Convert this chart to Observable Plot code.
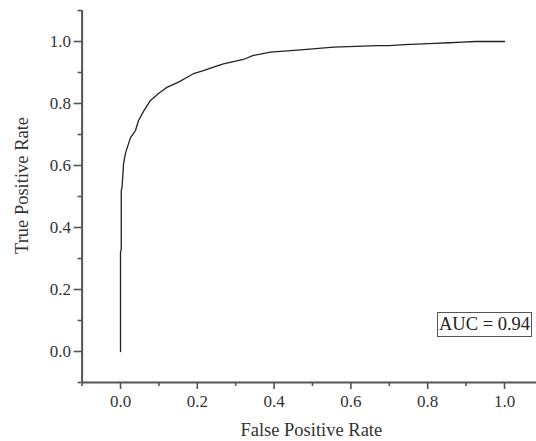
<!DOCTYPE html>
<html>
<head>
<meta charset="utf-8">
<script src="https://cdn.jsdelivr.net/npm/d3@7"></script>
<script src="https://cdn.jsdelivr.net/npm/@observablehq/plot@0.6"></script>
<style>
  html, body { margin: 0; padding: 0; background: #fff; }
  #wrap { position: relative; width: 536px; height: 441px; overflow: hidden; }
  #auc { position: absolute; left: 437px; top: 312px; width: 92px; height: 23px;
         border: 1px solid #555; font-family: "Liberation Serif", "Times New Roman", serif;
         font-size: 18.5px; line-height: 23px; color: #222; padding-left: 1px; white-space: nowrap; background: #fff; }
</style>
</head>
<body>
<div id="wrap"></div>
<script>
// ROC curve points
const fpr = [0, 0, 0.002, 0.002, 0.004, 0.008, 0.013, 0.026, 0.035, 0.039, 0.047, 0.061, 0.078, 0.099, 0.122, 0.151, 0.177, 0.19, 0.216, 0.242, 0.268, 0.32, 0.346, 0.39, 0.469, 0.555, 0.669, 0.70, 0.74, 0.818, 0.857, 0.89, 0.925, 1.0];
const tpr = [0, 0.32, 0.33, 0.52, 0.53, 0.606, 0.64, 0.69, 0.705, 0.713, 0.745, 0.777, 0.81, 0.832, 0.853, 0.869, 0.887, 0.896, 0.906, 0.917, 0.928, 0.942, 0.955, 0.966, 0.973, 0.982, 0.987, 0.987, 0.99, 0.994, 0.996, 0.998, 1.0, 1.0];
const majorTicks = [0, 0.2, 0.4, 0.6, 0.8, 1.0];
const minorTicks = [-0.1, 0.1, 0.3, 0.5, 0.7, 0.9, 1.1];
const xTitle = "False Positive Rate";
const yTitle = "True Positive Rate";
const aucLabel = "AUC = 0.94";

const roc = fpr.map((x, i) => ({x, y: tpr[i]}));
const font = '"Liberation Serif", "Times New Roman", serif';
const axisColor = "#555";
const textColor = "#333";

const chart = Plot.plot({
  width: 536,
  height: 441,
  marginLeft: 81.6,
  marginRight: 0,
  marginTop: 10,
  marginBottom: 59,
  style: {fontFamily: font, background: "#fff", overflow: "visible"},
  x: {domain: [-0.1, 1.1], range: [81.6, 542.4]},
  y: {domain: [-0.1, 1.1], range: [382, 10]},
  marks: [
    Plot.axisX(majorTicks, {tickSize: 7, tickPadding: 5, fontSize: 17, tickFormat: d3.format(".1f"), stroke: axisColor, strokeWidth: 1.6, fill: textColor, label: null}),
    Plot.axisX(minorTicks, {tickSize: 4, tickFormat: () => "", stroke: axisColor, strokeWidth: 1.6, label: null}),
    Plot.axisY(majorTicks, {tickSize: 8, tickPadding: 3, fontSize: 17, tickFormat: d3.format(".1f"), stroke: axisColor, strokeWidth: 1.6, fill: textColor, label: null}),
    Plot.axisY(minorTicks, {tickSize: 4, tickFormat: () => "", stroke: axisColor, strokeWidth: 1.6, label: null}),
    Plot.ruleY([-0.1], {stroke: axisColor, strokeWidth: 2}),
    Plot.ruleX([-0.1], {stroke: axisColor, strokeWidth: 2}),
    Plot.line(roc, {x: "x", y: "y", stroke: "#222", strokeWidth: 1.3}),
    Plot.text([xTitle], {frameAnchor: "bottom", dx: 2, dy: 53, fontSize: 18.5, fill: textColor, fontFamily: font}),
    Plot.text([yTitle], {frameAnchor: "left", textAnchor: "middle", lineAnchor: "middle", rotate: -90, dx: -59.6, dy: -11, fontSize: 18.5, fill: textColor, fontFamily: font})
  ]
});

const wrap = document.getElementById("wrap");
wrap.appendChild(chart);
const box = document.createElement("div");
box.id = "auc";
box.textContent = aucLabel;
wrap.appendChild(box);
</script>
</body>
</html>
